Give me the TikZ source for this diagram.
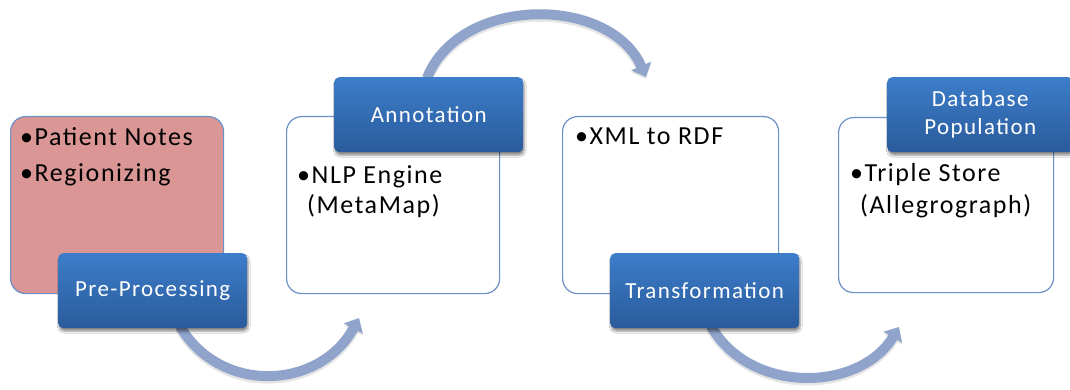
\documentclass[tikz,border=0pt]{standalone}
\usepackage{fontspec}
\setmainfont{Carlito}[LetterSpace=6]
\usetikzlibrary{arrows.meta,shadows.blur}

\definecolor{frame}{HTML}{6C90C8}
\definecolor{pinkfill}{HTML}{D99694}
\definecolor{labeltop}{HTML}{3D7DCA}
\definecolor{labelbot}{HTML}{2A5B9B}
\definecolor{arrowcol}{HTML}{8FA3CB}

\tikzset{
  bodybox/.style={draw=frame, line width=1.2pt, rounded corners=15pt,
    minimum width=213pt, minimum height=177pt, anchor=north west, inner sep=0pt},
  labelbox/.style={rounded corners=5pt, top color=labeltop, bottom color=labelbot,
    minimum width=189pt, minimum height=75pt, anchor=north west, inner sep=0pt,
    text=white, font=\fontsize{23pt}{28pt}\selectfont, align=center,
    blur shadow={shadow xshift=1pt, shadow yshift=-3pt, shadow blur steps=6, shadow opacity=45}},
  bodytext/.style={anchor=base west, inner sep=0pt, font=\fontsize{26pt}{30pt}\selectfont},
  flow/.style={draw=arrowcol, line width=10pt,
    -{Triangle[length=12pt,width=21pt]},
    preaction={draw=black!45, opacity=0.22, line width=11pt, transform canvas={yshift=-2pt}}},
}

\begin{document}
\begin{tikzpicture}[x=1pt,y=-1pt]
\useasboundingbox[fill=white] (0,0) rectangle (1070,390);

% anchor points for the curved flow arrows
\coordinate (f1s) at (180,326);
\coordinate (f1e) at (359,318);
\coordinate (f2s) at (427,78);
\coordinate (f2e) at (646,77);
\coordinate (f3s) at (711,326);
\coordinate (f3e) at (899,327);

% curved flow arrows
\draw[flow] (f1s) .. controls (220,395) and (320,390) .. (f1e);
\draw[flow] (f2s) .. controls (460,-5) and (610,-5) .. (f2e);
\draw[flow] (f3s) .. controls (750,395) and (860,392) .. (f3e);

% stage boxes
\node[bodybox, fill=pinkfill] (b1) at (10,116) {};
\node[bodybox, fill=white] (b2) at (286,116) {};
\node[bodybox, fill=white, minimum width=216pt] (b3) at (562,116) {};
\node[bodybox, fill=white, minimum width=215pt, minimum height=175pt] (b4) at (838,117) {};

% stage contents
\node[bodytext] (t1a) at (20,146) {•Patient Notes};
\node[bodytext] (t1b) at (20,182) {•Regionizing};
\node[bodytext] (t2a) at (297,183) {•NLP Engine};
\node[bodytext] (t2b) at (307,213) {(MetaMap)};
\node[bodytext] (t3a) at (575,145) {•XML to RDF};
\node[bodytext] (t4a) at (850,182) {•Triple Store};
\node[bodytext] (t4b) at (860,213) {(Allegrograph)};

% stage titles
\node[labelbox] (l1) at (58,253) {Pre-Processing};
\node[labelbox] (l2) at (334,77) {Annotation};
\node[labelbox] (l3) at (610,253) {Transformation};
\node[labelbox, minimum width=186pt] (l4) at (887,77) {Database\\Population};
\end{tikzpicture}
\end{document}
